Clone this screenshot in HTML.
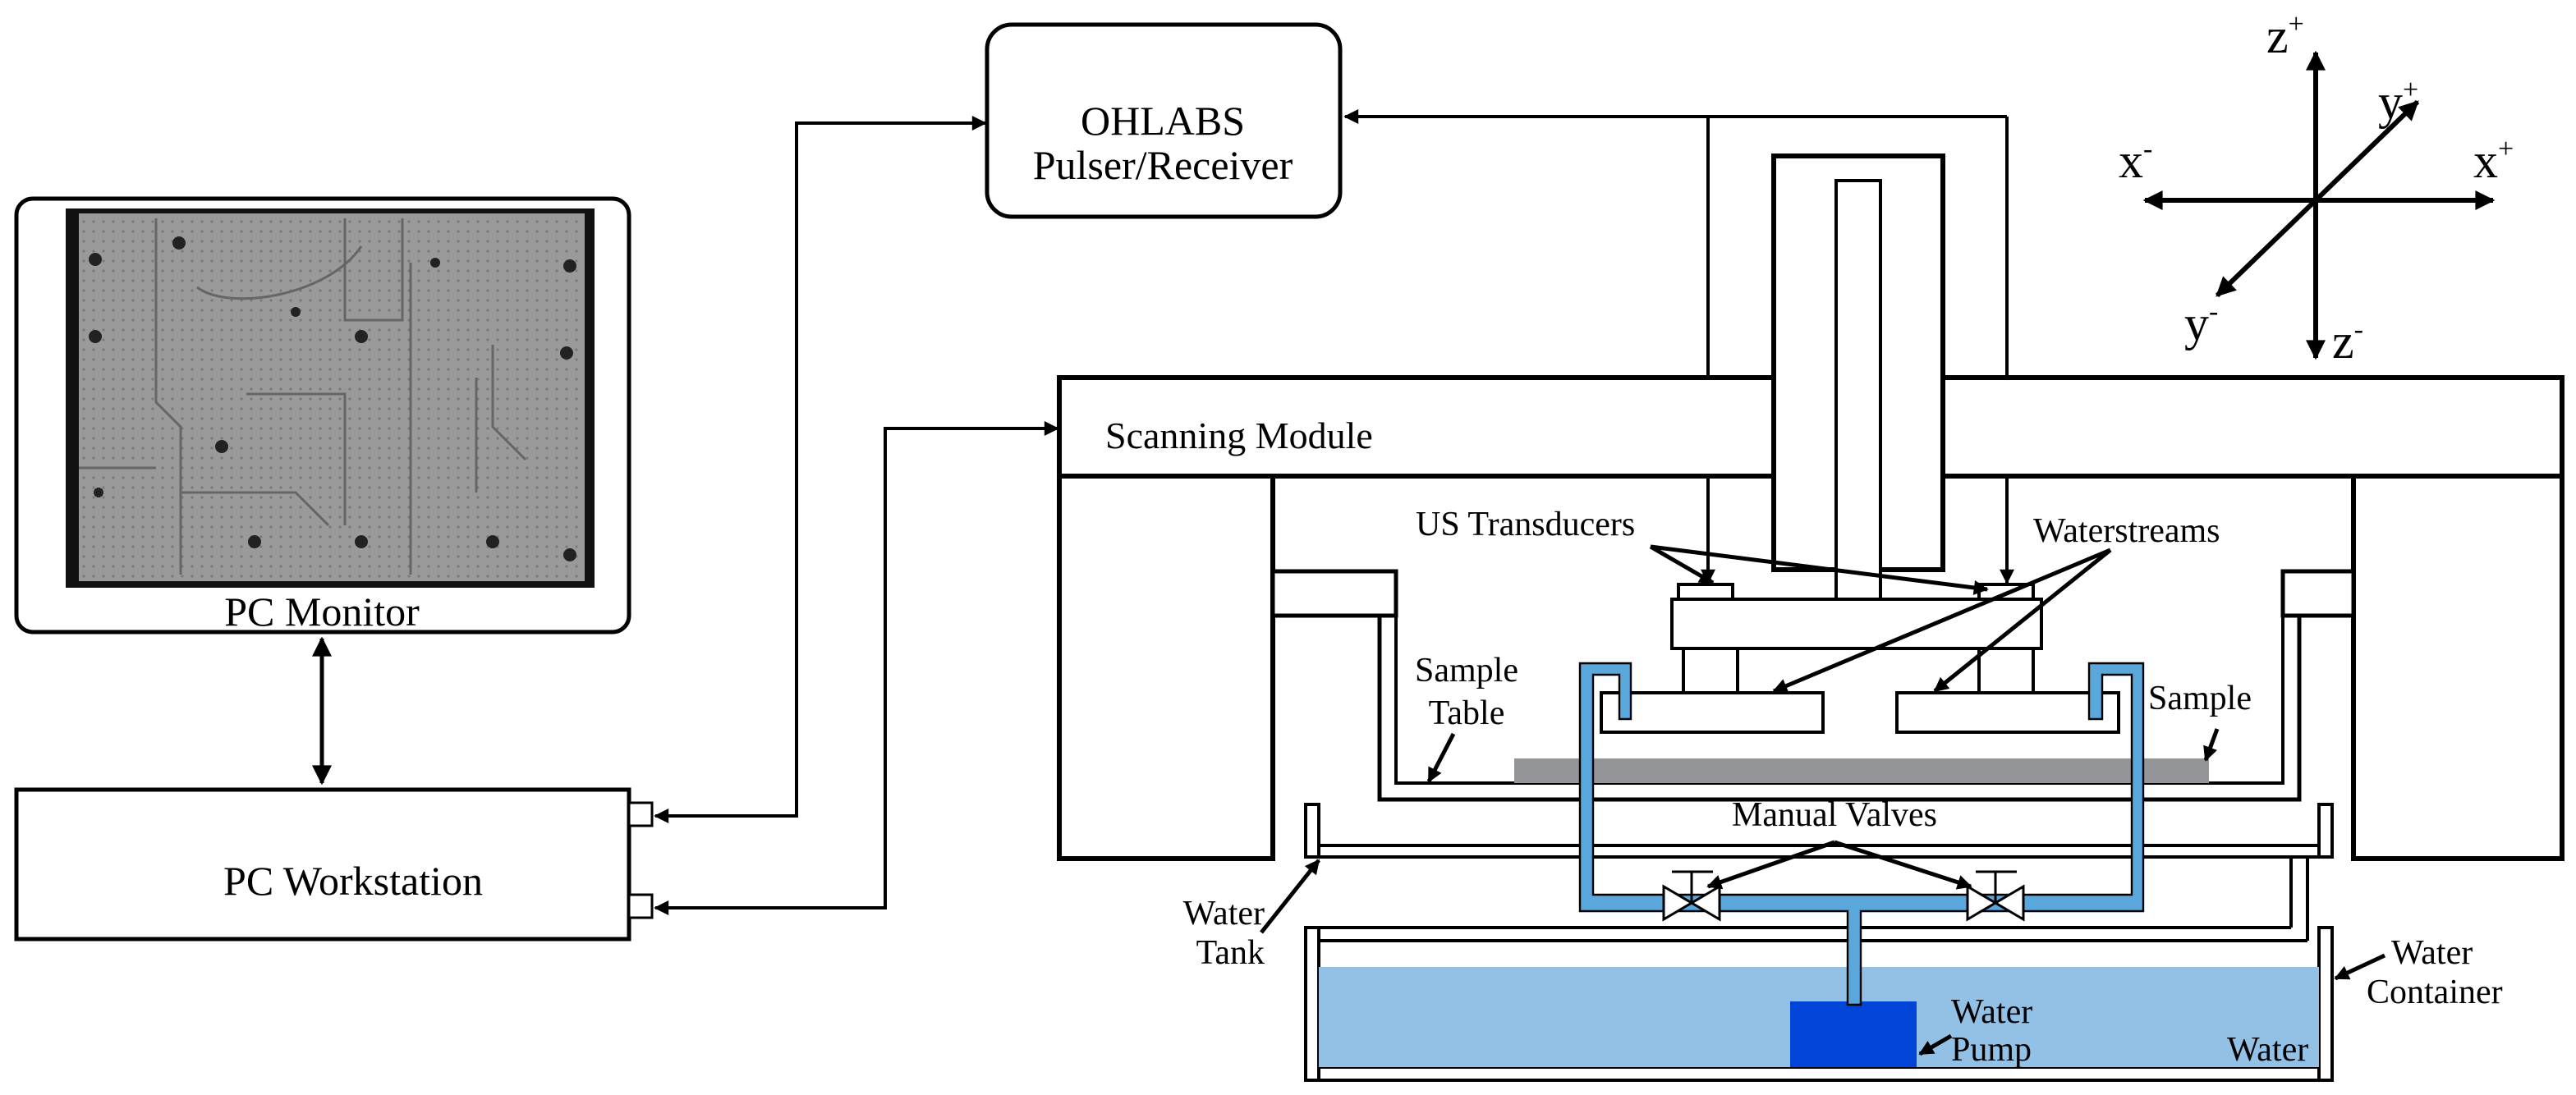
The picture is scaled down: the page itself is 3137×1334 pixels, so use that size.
<!DOCTYPE html>
<html><head><meta charset="utf-8"><style>html,body{margin:0;padding:0;background:#fff}svg{display:block}text{font-family:"Liberation Serif",serif;fill:#000}</style></head><body>
<svg width="3137" height="1334" viewBox="0 0 1568.5 667" xmlns="http://www.w3.org/2000/svg">
<defs>
<marker id="a" viewBox="0 0 10 10" refX="9" refY="5" markerWidth="10" markerHeight="9" orient="auto-start-reverse" markerUnits="userSpaceOnUse"><path d="M0,0L10,5L0,10z" fill="#000"/></marker>
<marker id="b" viewBox="0 0 10 10" refX="9" refY="5" markerWidth="13" markerHeight="12" orient="auto-start-reverse" markerUnits="userSpaceOnUse"><path d="M0,0L10,5L0,10z" fill="#000"/></marker>
<pattern id="pcb" width="6" height="6" patternUnits="userSpaceOnUse"><rect width="6" height="6" fill="#9a9a9a"/><circle cx="3" cy="3" r="0.8" fill="#7a7a7a"/></pattern>
</defs>
<!-- PC monitor -->
<rect x="10" y="121" width="373" height="264" rx="10" fill="#fff" stroke="#000" stroke-width="2.5"/>
<rect x="40" y="127" width="322" height="231" fill="#111"/>
<rect x="48" y="130" width="308" height="224" fill="url(#pcb)"/>
<g fill="none" stroke="#666" stroke-width="1.5">
<path d="M95,133V245L110,260V350"/><path d="M210,133V195H245V133"/><path d="M250,160V350"/><path d="M120,175C140,190 200,180 220,150"/><path d="M300,210V260L320,280"/><path d="M290,230V300"/><path d="M150,240H210V320"/><path d="M48,285H95"/><path d="M110,300H180L200,320"/>
</g>
<g fill="#222"><circle cx="109" cy="148" r="4"/><circle cx="58" cy="158" r="4"/><circle cx="58" cy="205" r="4"/><circle cx="220" cy="205" r="4"/><circle cx="347" cy="162" r="4"/><circle cx="345" cy="215" r="4"/><circle cx="135" cy="272" r="4"/><circle cx="220" cy="330" r="4"/><circle cx="347" cy="338" r="4"/><circle cx="300" cy="330" r="4"/><circle cx="180" cy="190" r="3"/><circle cx="265" cy="160" r="3"/><circle cx="155" cy="330" r="4"/><circle cx="60" cy="300" r="3"/></g>
<text x="196" y="381" font-size="25" text-anchor="middle">PC Monitor</text>
<line x1="196" y1="389" x2="196" y2="477" stroke="#000" stroke-width="2.5" marker-start="url(#b)" marker-end="url(#b)"/>
<!-- workstation -->
<rect x="10" y="481" width="373" height="91" fill="#fff" stroke="#000" stroke-width="2.5"/>
<text x="215" y="545" font-size="25" text-anchor="middle">PC Workstation</text>
<rect x="383" y="489" width="14" height="14" fill="#fff" stroke="#000" stroke-width="1.5"/>
<rect x="383" y="545" width="14" height="14" fill="#fff" stroke="#000" stroke-width="1.5"/>
<g fill="none" stroke="#000" stroke-width="2">
<path d="M399,497H485V75H600" marker-start="url(#a)" marker-end="url(#a)"/>
<path d="M399,553H539V261H644" marker-start="url(#a)" marker-end="url(#a)"/>
</g>
<!-- OHLABS -->
<rect x="601" y="15" width="215" height="117" rx="15" fill="#fff" stroke="#000" stroke-width="2.5"/>
<text x="708" y="82" font-size="25" text-anchor="middle">OHLABS</text>
<text x="708" y="109" font-size="25" text-anchor="middle">Pulser/Receiver</text>
<g fill="none" stroke="#000" stroke-width="2">
<path d="M1222,71H819" marker-end="url(#a)"/>
<path d="M1040,71V355" marker-end="url(#a)"/>
<path d="M1222,71V355" marker-end="url(#a)"/>
</g>
<!-- axes -->
<g stroke="#000" stroke-width="3" fill="none">
<line x1="1410" y1="122" x2="1410" y2="32" marker-end="url(#b)"/>
<line x1="1410" y1="122" x2="1410" y2="218" marker-end="url(#b)"/>
<line x1="1410" y1="122" x2="1306" y2="122" marker-end="url(#b)"/>
<line x1="1410" y1="122" x2="1518" y2="122" marker-end="url(#b)"/>
<line x1="1410" y1="122" x2="1472" y2="62" marker-end="url(#b)"/>
<line x1="1410" y1="122" x2="1350" y2="180" marker-end="url(#b)"/>
</g>
<g font-size="30"><text x="1380" y="32">z<tspan font-size="17" dy="-12">+</tspan></text>
<text x="1448" y="72">y<tspan font-size="17" dy="-12">+</tspan></text>
<text x="1290" y="108">x<tspan font-size="17" dy="-12">-</tspan></text>
<text x="1506" y="108">x<tspan font-size="17" dy="-12">+</tspan></text>
<text x="1330" y="207">y<tspan font-size="17" dy="-12">-</tspan></text>
<text x="1420" y="218">z<tspan font-size="17" dy="-12">-</tspan></text></g>
<!-- scanning module -->
<g fill="#fff" stroke="#000" stroke-width="3">
<rect x="645" y="230" width="915" height="60"/>
<rect x="645" y="290" width="130" height="233"/>
<rect x="1433" y="290" width="127" height="233"/>
<rect x="1080" y="95" width="103" height="252"/>
</g>
<text x="673" y="273" font-size="23">Scanning Module</text>
<g fill="#fff" stroke="#000" stroke-width="2.5">
<rect x="775" y="348" width="75" height="27"/>
<rect x="1390" y="348" width="43" height="27"/>
<path d="M840,375V487H1400V375" fill="none" stroke-width="2.5"/>
<path d="M850,375V477H1390V375" fill="none" stroke-width="2"/>
</g>
<g fill="#fff" stroke="#000" stroke-width="2">
<path d="M1118,347V110H1145V365" fill="#fff"/>
<line x1="1118" y1="347" x2="1118" y2="365"/>
<rect x="1022" y="356" width="33" height="9"/>
<rect x="1205" y="356" width="33" height="9"/>
<rect x="1018" y="365" width="225" height="30"/>
<path d="M1025,395V422M1058,395V422M1205,395V422M1238,395V422"/>
<rect x="975" y="422" width="135" height="24"/>
<rect x="1155" y="422" width="135" height="24"/>
</g>
<rect x="922" y="462" width="423" height="15" fill="#939598"/>
<!-- water tank -->
<g fill="#fff" stroke="#000" stroke-width="2">
<rect x="795" y="490" width="8" height="32"/>
<rect x="1412" y="490" width="8" height="32"/>
<path d="M803,515H1412M803,522H1412" fill="none"/>
<path d="M1405,522V573M1395,522V565" fill="none"/>
<path d="M795,565H1395M803,573H1405" fill="none"/>
<rect x="795" y="565" width="8" height="93"/>
<rect x="1412" y="565" width="8" height="93"/>
<path d="M803,650H1412M795,658H1420" fill="none"/>
</g>
<rect x="803" y="589" width="609" height="61" fill="#93c1e6"/>
<rect x="1090" y="610" width="77" height="40" fill="#0044d8"/>
<!-- pipes -->
<g fill="#5aa7dc" stroke="#000" stroke-width="1.2">
<path d="M962,404H993V438H986V411H970V545H1125V545H1298V411H1280V438H1272V404H1305V555H1133V612H1125V555H962Z"/>
</g>
<g stroke="#000" stroke-width="1.5" fill="#fff">
<path d="M1013,540L1047,560V540L1013,560Z"/>
<path d="M1198,540L1232,560V540L1198,560Z"/>
<path d="M1030,550V531M1018,531H1043M1215,550V531M1203,531H1228" fill="none"/>
</g>
<!-- labels -->
<g font-size="21">
<text x="862" y="326">US Transducers</text>
<text x="1238" y="330">Waterstreams</text>
<text x="893" y="415" text-anchor="middle">Sample</text>
<text x="893" y="441" text-anchor="middle">Table</text>
<text x="1308" y="432">Sample</text>
<text x="1117" y="503" text-anchor="middle">Manual Valves</text>
<text x="770" y="563" text-anchor="end">Water</text>
<text x="770" y="587" text-anchor="end">Tank</text>
<text x="1456" y="587">Water</text>
<text x="1441" y="611">Container</text>
<text x="1188" y="623">Water</text>
<text x="1188" y="646">Pump</text>
<text x="1356" y="646">Water</text>
</g>
<g stroke="#000" stroke-width="2.5" fill="none">
<line x1="1005" y1="333" x2="1043" y2="355" marker-end="url(#a)"/>
<line x1="1005" y1="333" x2="1210" y2="359" marker-end="url(#a)"/>
<line x1="1285" y1="335" x2="1080" y2="421" marker-end="url(#a)"/>
<line x1="1285" y1="335" x2="1178" y2="421" marker-end="url(#a)"/>
<line x1="885" y1="447" x2="870" y2="476" marker-end="url(#a)"/>
<line x1="1350" y1="444" x2="1343" y2="463" marker-end="url(#a)"/>
<line x1="1117" y1="513" x2="1040" y2="540" marker-end="url(#a)"/>
<line x1="1117" y1="513" x2="1200" y2="540" marker-end="url(#a)"/>
<line x1="768" y1="568" x2="803" y2="524" marker-end="url(#a)"/>
<line x1="1452" y1="582" x2="1422" y2="596" marker-end="url(#a)"/>
<line x1="1188" y1="631" x2="1169" y2="642" marker-end="url(#a)"/>
</g>
</svg>
</body></html>
